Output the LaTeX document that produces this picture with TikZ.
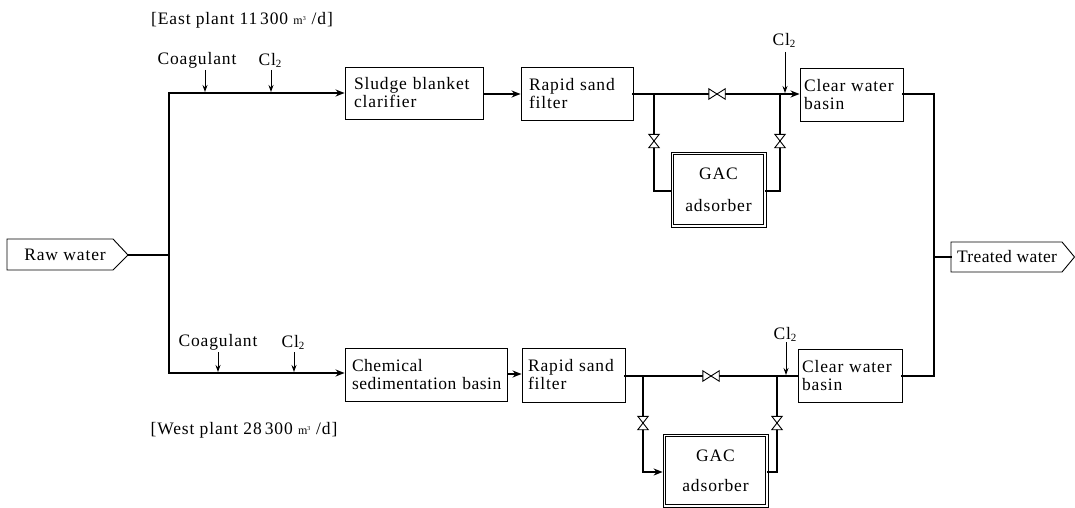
\documentclass[tikz,border=0pt]{standalone}
\usepackage{fontspec}
\setmainfont[LetterSpace=5]{Liberation Serif}
\newfontfamily\plainserif{Liberation Serif}
\usetikzlibrary{arrows.meta,calc}
\newcommand{\cltwo}{Cl\raisebox{-2pt}{\fontsize{11}{11}\selectfont 2}}
\newcommand{\mcube}{{\plainserif\fontsize{12}{12}\selectfont m\raisebox{4pt}{\fontsize{6}{6}\selectfont 3}}\,\,}
\newcommand{\valveh}[2]{\node[valveboxh] (#1) at (#2) {};
  \draw[valveline] (#1.north west)--(#1.south east)--(#1.north east)--(#1.south west)--cycle;}
\newcommand{\valvev}[2]{\node[valveboxv] (#1) at (#2) {};
  \draw[valveline] (#1.north west)--(#1.north east)--(#1.south west)--(#1.south east)--cycle;}
% name, x0,y0,x1,y1, text offset, text
\newcommand{\boxat}[7]{%
  \node[procbox, minimum width={(#4-#2)*1pt}, minimum height={(#5-#3)*1pt}, text width={(#4-#2-2*#6)*1pt}] (#1) at ({(#2+#4)/2},{(#3+#5)/2}) {#7};}
\newcommand{\gacat}[6]{%
  \node[gacbox, minimum width={(#4-#2)*1pt}, minimum height={(#5-#3)*1pt}] (#1) at ({(#2+#4)/2},{(#3+#5)/2}) {GAC\\[#6]adsorber};
  \draw[gacinner] ([xshift=2.6pt,yshift=-2.6pt]#1.north west) rectangle ([xshift=-2.6pt,yshift=2.6pt]#1.south east);}
\tikzset{
  every node/.style={font=\fontsize{17.5}{18}\selectfont},
  procbox/.style={draw, line width=0.9pt, rectangle, inner sep=0pt, align=left, fill=white},
  gacbox/.style={draw, line width=0.8pt, rectangle, inner sep=0pt, align=center, fill=white},
  gacinner/.style={line width=0.8pt},
  pipe/.style={line width=2.1pt, line cap=rect},
  flow/.style={line width=2.1pt, -{Stealth[length=9pt,width=7pt]}},
  dose/.style={line width=0.9pt, -{Stealth[length=7pt,width=5pt]}},
  label/.style={inner sep=0pt},
  valveboxh/.style={minimum width=16pt, minimum height=10pt, inner sep=0pt},
  valveboxv/.style={minimum width=10pt, minimum height=13pt, inner sep=0pt},
  valveline/.style={line width=0.9pt, fill=white},
  tag/.style={draw, line width=0.9pt, fill=white}
}
\begin{document}
\begin{tikzpicture}[x=1pt,y=-1pt]
\useasboundingbox (0,0) rectangle (1075,508);
% junctions
\coordinate (rawj) at (169,255);
\coordinate (topl) at (169,93);
\coordinate (botl) at (169,373);
\coordinate (topr) at (934,94);
\coordinate (botr) at (934,376);
\coordinate (trj) at (934,257);
% pentagons
\draw[tag] (7,239) -- (113,239) -- (128,255) -- (113,270) -- (7,270) -- cycle;
\node[label] (raw) at (65,255) {Raw water};
\coordinate (rawtip) at (128,255);
\draw[tag] (951,242) -- (1062,242) -- (1074.5,257) -- (1062,272) -- (951,272) -- cycle;
\node[label] (treated) at (1007,257) {\addfontfeature{LetterSpace=2}Treated water};
\coordinate (trtail) at (951,257);
% boxes
\boxat{sbc}{345}{67}{483}{119}{9}{Sludge blanket\\clarifier}
\boxat{rsf1}{521}{67}{633}{120}{8}{Rapid sand\\filter}
\boxat{cwb1}{800}{68}{903}{121}{4}{Clear water\\basin}
\gacat{gac1}{671}{152}{766}{227}{14pt}
\boxat{csb}{345}{348}{507}{401}{7}{\addfontfeature{LetterSpace=3}Chemical\\\mbox{sedimentation basin}}
\boxat{rsf2}{522}{348}{625}{402}{6}{Rapid sand\\filter}
\boxat{cwb2}{798}{349}{902}{402}{4}{Clear water\\basin}
\gacat{gac2}{663}{434}{768}{507}{12pt}
% trunk
\draw[pipe] (rawtip) -- (rawj);
\draw[pipe] (trj) -- (trtail);
\draw[pipe] (topl) -- (botl);
\draw[flow] (botl) -- (csb.west |- botl);
\draw[flow] (topl) -- (sbc.west |- topl);
\draw[pipe] (cwb1.east |- topr) -- (topr) -- (botr) -- (cwb2.east |- botr);
\draw[flow] (sbc.east |- 0,94) -- (rsf1.west |- 0,94);
\draw[flow] (csb.east |- 0,374) -- (rsf2.west |- 0,374);
% east plant piping
\coordinate (e1) at (654,94);
\coordinate (e2) at (780,94);
\coordinate (e3) at (654,191);
\coordinate (e4) at (780,191);
\draw[pipe] (rsf1.east |- e1) -- (e2);
\draw[flow] (e2) -- (cwb1.west |- e2);
\draw[pipe] (e1) -- (e3) -- (gac1.west |- e3);
\draw[pipe] (e2) -- (e4) -- (gac1.east |- e4);
\valveh{ve1}{717,94}
\valvev{ve2}{654,141}
\valvev{ve3}{780,141}
% west plant piping
\coordinate (w1) at (643,376);
\coordinate (w2) at (777,376);
\coordinate (w3) at (643,472);
\coordinate (w4) at (777,472);
\draw[pipe] (rsf2.east |- w1) -- (cwb2.west |- w1);
\draw[pipe] (w1) -- (w3);
\draw[flow] (w3) -- (gac2.west |- w3);
\draw[pipe] (w2) -- (w4) -- (gac2.east |- w4);
\valveh{vw1}{711,376}
\valvev{vw2}{643,423}
\valvev{vw3}{777,423}
% dosing labels
\node[label] (coag1) at (197,60) {Coagulant};
\node[label] (cl1) at (270,60) {\cltwo};
\node[label] (cl3) at (784,40) {\cltwo};
\node[label] (coag2) at (218,342) {Coagulant};
\node[label] (cl2) at (293,342) {\cltwo};
\node[label] (cl4) at (785,334) {\cltwo};
\coordinate (d1) at (205,70); \coordinate (d1e) at (205,92);
\coordinate (d2) at (271,70); \coordinate (d2e) at (271,92);
\coordinate (d3) at (785,52); \coordinate (d3e) at (785,93);
\coordinate (d4) at (218,352); \coordinate (d4e) at (218,372);
\coordinate (d5) at (294,352); \coordinate (d5e) at (294,372);
\coordinate (d6) at (786,342); \coordinate (d6e) at (786,375);
\draw[dose] (d1) -- (d1e);
\draw[dose] (d2) -- (d2e);
\draw[dose] (d3) -- (d3e);
\draw[dose] (d4) -- (d4e);
\draw[dose] (d5) -- (d5e);
\draw[dose] (d6) -- (d6e);
% titles
\node[label] (east) at (242,20) {[East plant 11\,300 \mcube/d]};
\node[label] (west) at (244,430) {[West plant 28\,300 \mcube/d]};
\end{tikzpicture}
\end{document}
